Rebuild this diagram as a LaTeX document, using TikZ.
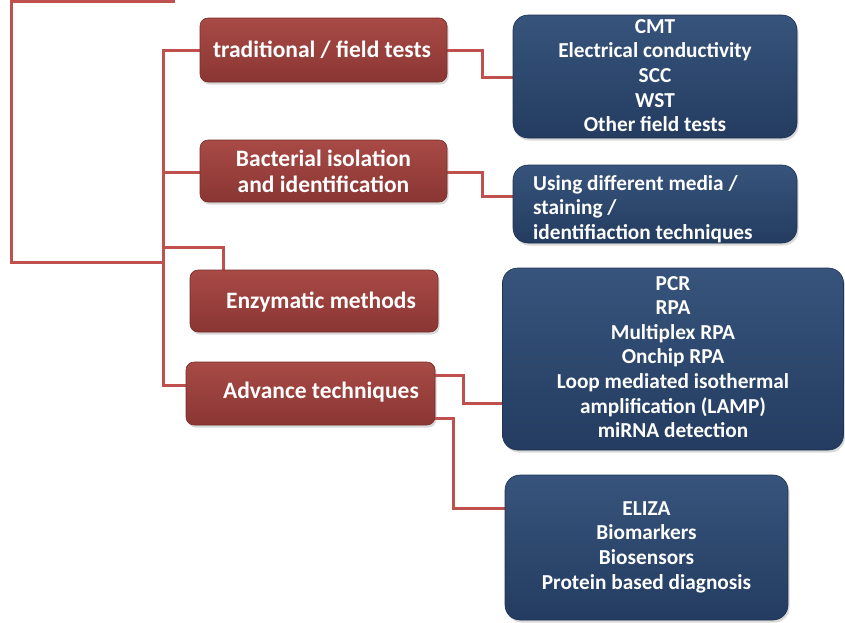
\documentclass[tikz,border=0pt]{standalone}
\usepackage{fontspec}
\setmainfont{Carlito}
\usetikzlibrary{shadows}
\definecolor{linered}{RGB}{192,80,77}
\definecolor{redtop}{RGB}{168,74,70}
\definecolor{redbot}{RGB}{138,54,51}
\definecolor{bluetop}{RGB}{55,84,124}
\definecolor{bluebot}{RGB}{36,60,96}
\begin{document}
\begin{tikzpicture}[x=1pt,y=-1pt,
  conn/.style={draw=linered, line width=3pt},
  redbox/.style={rounded corners=8pt, top color=redtop, bottom color=redbot,
    draw=redbot!85!black, line width=0.6pt,
    drop shadow={opacity=0.3, shadow xshift=1.5pt, shadow yshift=-2.5pt},
    inner sep=0pt},
  bluebox/.style={rounded corners=15pt, top color=bluetop, bottom color=bluebot,
    draw=bluebot!85!black, line width=0.6pt,
    drop shadow={opacity=0.3, shadow xshift=1.5pt, shadow yshift=-2.5pt},
    inner sep=0pt},
  redtext/.style={text=white, font=\fontsize{23.5}{26}\selectfont\bfseries, align=center, inner sep=0pt},
  bluetext/.style={text=white, font=\fontsize{21.3}{24.6}\selectfont\bfseries, align=center, inner sep=0pt}
]
\useasboundingbox (0,0) rectangle (845,622);

% coordinates for connectors
\coordinate (topend) at (175,1.5);
\coordinate (tl) at (11,1.5);
\coordinate (trunkmid) at (163,262);
\coordinate (trunkbot) at (163,385);
\coordinate (enzjoin) at (163,247);
\coordinate (enzin) at (223,270);
\coordinate (advA) at (435,375);
\coordinate (advB) at (435,418);
\coordinate (pcrin) at (502,403);
\coordinate (elizain) at (505,508);

% connectors (behind boxes)
\draw[conn] (topend) -- (tl) |- (trunkmid);
\draw[conn] (200,50) -| (trunkbot) -- (187,385);
\draw[conn] (200,172) -- (163,172);
\draw[conn] (enzjoin) -| (enzin);
\draw[conn] (446,50) -- (482,50) |- (513,77);
\draw[conn] (446,172) -- (482,172) |- (513,196);
\draw[conn] (advA) -- (463,375) |- (pcrin);
\draw[conn] (advB) -- (453,418) |- (elizain);

% red boxes
\node[redbox, minimum width=247pt, minimum height=64pt] (trad) at (323.5,50) {};
\node[redtext] (tradt) at (322,50) {traditional / field tests};
\node[redbox, minimum width=247pt, minimum height=62pt] (bact) at (323.5,171) {};
\node[redtext] (bactt) at (323.5,171) {Bacterial isolation\\and identification};
\node[redbox, minimum width=248pt, minimum height=62pt] (enz) at (314,301) {};
\node[redtext] (enzt) at (321,302) {Enzymatic methods};
\node[redbox, minimum width=249pt, minimum height=63pt] (adv) at (310.5,393.5) {};
\node[redtext] (advt) at (321,392) {Advance techniques};

% blue boxes
\node[bluebox, minimum width=284pt, minimum height=123pt] (cmt) at (655,76.5) {};
\node[bluetext] (cmtt) at (655,75.5) {CMT\\Electrical conductivity\\SCC\\WST\\Other field tests};
\node[bluebox, minimum width=284pt, minimum height=78pt] (use) at (655,204) {};
\node[bluetext, align=left, anchor=west] (uset) at (533,209) {Using different media /\\staining /\\identifiaction techniques};
\node[bluebox, minimum width=341pt, minimum height=182pt] (pcr) at (673,359) {};
\node[bluetext] (pcrt) at (673,357) {PCR\\RPA\\Multiplex RPA\\Onchip RPA\\Loop mediated isothermal\\amplification (LAMP)\\miRNA detection};
\node[bluebox, minimum width=283pt, minimum height=145pt] (eliza) at (646.5,547.5) {};
\node[bluetext] (elizat) at (646.5,547) {ELIZA\\Biomarkers\\Biosensors\\Protein based diagnosis};
\end{tikzpicture}
\end{document}
